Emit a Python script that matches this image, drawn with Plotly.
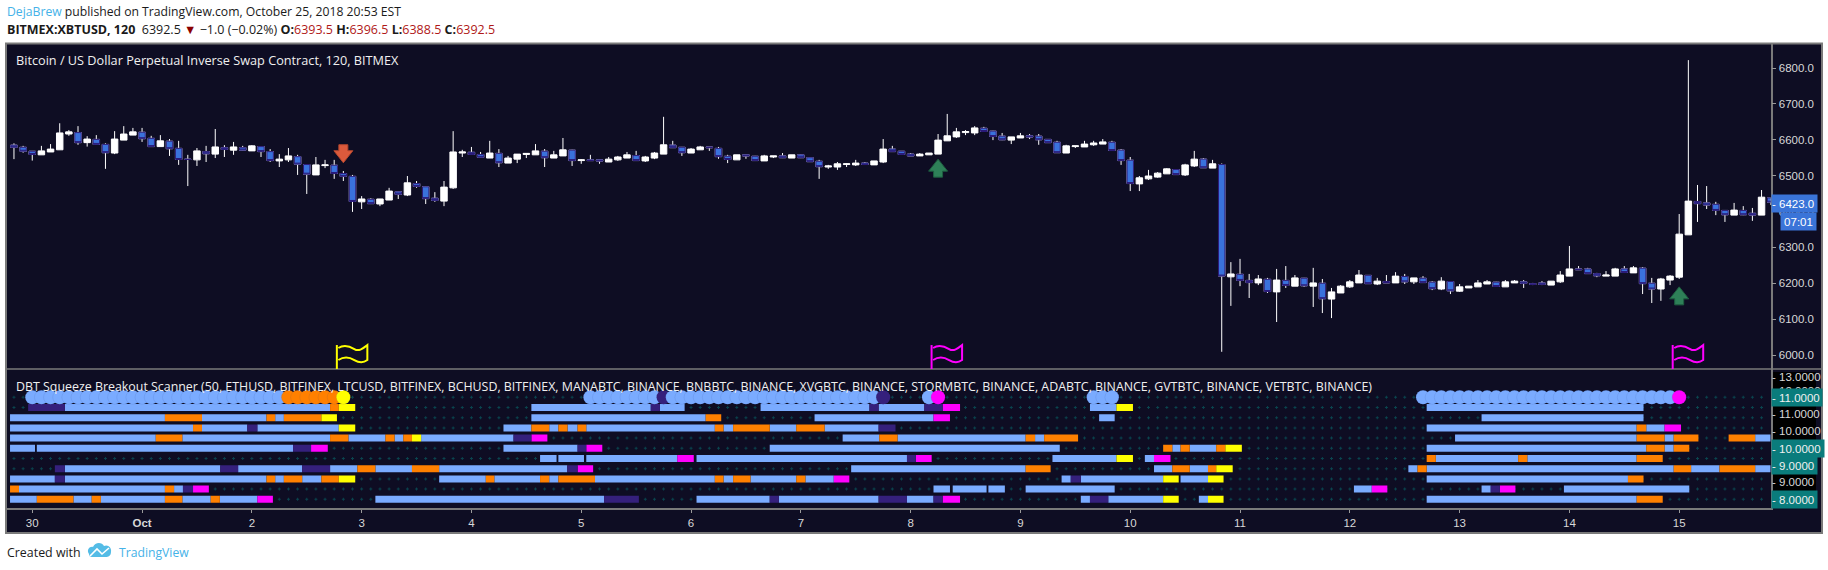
import numpy as np
import plotly.graph_objects as go

W, H = 1828, 570

# ---------- price data (one 2h bar each, 12 bars per day, bar 0 = 30 Sep) ----------
FIRST_BAR = -2
OPEN = [6585,6579,6568,6558,6566,6572,6616,6620,6592,6601,6587,6563,6599,6613,6621,6604,6581,6596,6576,6546,
        6544,6567,6560,6578,6571,6578,6569,6581,6567,6541,6544,6553,6531,6502,6528,6529,6506,6498,6427,6434,
        6421,6432,6455,6446,6478,6469,6437,6429,6466,6563,6565,6559,6549,6562,6535,6546,6559,6558,6568,6549,
        6555,6571,6542,6544,6544,6538,6544,6549,6556,6541,6549,6560,6585,6579,6563,6572,6580,6576,6554,6544,
        6558,6554,6541,6552,6555,6549,6558,6550,6540,6524,6524,6531,6530,6535,6530,6538,6574,6568,6560,6555,
        6558,6560,6597,6608,6620,6619,6632,6624,6610,6599,6605,6611,6610,6601,6593,6563,6581,6580,6586,6588,
        6593,6571,6543,6477,6491,6496,6505,6517,6502,6527,6546,6521,6531,6218,6225,6208,6201,6211,6176,6208,
        6192,6214,6192,6200,6156,6173,6190,6201,6222,6198,6205,6201,6219,6204,6214,6203,6184,6205,6178,6187,
        6190,6198,6203,6190,6201,6204,6199,6201,6195,6204,6220,6240,6240,6227,6220,6220,6240,6229,6242,6200,
        6184,6209,6217,6335,6428,6424,6420,6403,6390,6403,6395,6390,6438]
HIGH = [6590,6583,6568,6583,6588,6646,6627,6638,6610,6613,6590,6624,6638,6633,6633,6611,6613,6602,6597,6558,
        6577,6583,6630,6585,6594,6583,6585,6582,6574,6560,6577,6558,6532,6552,6544,6544,6513,6502,6443,6437,
        6435,6466,6456,6499,6485,6470,6454,6485,6624,6572,6580,6566,6597,6574,6555,6560,6563,6588,6574,6569,
        6605,6572,6546,6558,6544,6552,6555,6566,6569,6555,6566,6664,6597,6580,6577,6583,6580,6580,6558,6558,
        6558,6555,6558,6555,6563,6558,6560,6551,6544,6530,6538,6535,6544,6538,6541,6602,6583,6568,6563,6563,
        6563,6616,6672,6633,6627,6638,6636,6625,6619,6608,6619,6616,6616,6602,6597,6586,6583,6597,6597,6602,
        6597,6574,6552,6499,6516,6510,6521,6518,6533,6569,6549,6544,6534,6259,6268,6226,6223,6215,6240,6248,
        6223,6215,6243,6212,6187,6195,6209,6237,6223,6215,6223,6231,6226,6215,6220,6206,6217,6206,6198,6192,
        6209,6209,6204,6209,6209,6209,6201,6206,6206,6234,6304,6248,6243,6229,6234,6243,6248,6248,6245,6215,
        6215,6223,6393,6822,6474,6471,6427,6404,6424,6415,6410,6460,6438]
LOW = [6546,6564,6542,6558,6566,6572,6611,6586,6581,6586,6519,6560,6599,6613,6594,6581,6581,6555,6530,6471,
       6527,6538,6549,6552,6558,6570,6569,6552,6538,6524,6538,6502,6449,6502,6521,6491,6485,6399,6407,6422,
       6415,6432,6435,6443,6466,6421,6427,6415,6463,6552,6558,6550,6549,6524,6535,6535,6549,6558,6524,6549,
       6555,6527,6533,6541,6533,6538,6541,6549,6542,6538,6546,6560,6577,6555,6563,6572,6569,6547,6535,6544,
       6547,6542,6541,6549,6549,6549,6549,6538,6491,6519,6516,6524,6527,6530,6530,6535,6567,6559,6555,6555,
       6558,6560,6597,6605,6613,6613,6623,6599,6599,6588,6605,6602,6586,6591,6564,6563,6577,6580,6583,6588,
       6570,6530,6457,6457,6488,6494,6505,6502,6499,6524,6522,6521,6009,6137,6192,6159,6195,6173,6092,6187,
       6192,6190,6134,6117,6103,6173,6187,6201,6199,6195,6201,6201,6198,6198,6201,6181,6181,6170,6176,6187,
       6190,6198,6191,6190,6201,6187,6195,6195,6195,6201,6220,6237,6226,6217,6220,6220,6229,6229,6170,6145,
       6151,6195,6212,6335,6371,6407,6390,6371,6390,6390,6374,6390,6418]
CLOSE = [6579,6568,6559,6569,6574,6619,6622,6592,6602,6587,6564,6602,6616,6622,6603,6581,6597,6575,6545,6545,
         6569,6561,6580,6573,6580,6571,6583,6567,6542,6546,6555,6532,6504,6530,6530,6506,6498,6428,6435,6422,
         6435,6457,6448,6480,6470,6436,6431,6468,6566,6566,6559,6551,6563,6536,6549,6560,6562,6569,6550,6558,
         6572,6542,6544,6542,6541,6546,6552,6558,6542,6552,6563,6586,6578,6564,6574,6580,6578,6553,6545,6558,
         6555,6542,6555,6555,6550,6558,6550,6539,6525,6527,6533,6533,6535,6531,6541,6574,6567,6559,6555,6560,
         6563,6599,6611,6622,6623,6633,6623,6609,6600,6608,6611,6608,6600,6592,6564,6583,6583,6588,6591,6594,
         6570,6542,6478,6494,6499,6507,6519,6503,6530,6546,6522,6533,6220,6226,6208,6202,6212,6177,6209,6194,
         6215,6193,6201,6157,6176,6192,6204,6223,6199,6206,6201,6220,6204,6215,6202,6185,6206,6179,6190,6192,
         6201,6204,6191,6204,6206,6200,6197,6197,6206,6223,6240,6238,6227,6221,6223,6240,6230,6243,6199,6184,
         6212,6220,6337,6429,6422,6418,6403,6391,6404,6391,6390,6440,6426]

PRICE_TICKS = [6000, 6100, 6200, 6300, 6400, 6500, 6600, 6700, 6800]
LAST_PRICE = 6423.0
COUNTDOWN = "07:01"

DAY_BARS = [0, 12, 24, 36, 48, 60, 72, 84, 96, 108, 120, 132, 144, 156, 168, 180]
DAY_LABELS = ["30", "<b>Oct</b>", "2", "3", "4", "5", "6", "7", "8", "9", "10", "11", "12", "13", "14", "15"]

# signal markers on the price pane
SELL_ARROW_BARS, SELL_ARROW_PRICES = [34], [6536]
BUY_ARROW_BARS, BUY_ARROW_PRICES = [99, 180], [6546, 6190]
FLAG_BARS = [34, 99, 180]
FLAG_STATES = ["y", "m", "m"]
FLAG_BASE_PRICE = 5961

# ---------- scanner rows: (start bar, end bar, state) ----------
ROW_10 = [(-0.45,3.57,"p"),(3.57,32.55,"b"),(32.55,33.5,"o"),(33.5,35.3,"y"),(54.55,67.6,"b"),(67.6,68.6,"p"),
          (68.6,71.3,"b"),(79.6,91.5,"b"),(91.5,92.5,"p"),(92.5,97.5,"b"),(97.5,99.5,"p"),(99.5,101.4,"m"),
          (115.6,118.5,"b"),(118.5,120.3,"y"),(152.4,176.1,"b")]
ROW_9 = [(-2.43,14.5,"b"),(14.5,18.55,"o"),(18.55,25.6,"b"),(25.6,26.55,"o"),(26.55,27.5,"b"),(27.5,31.6,"o"),
         (31.6,33.3,"y"),(54.55,73.6,"b"),(73.6,75.3,"o"),(85.5,98.5,"b"),(98.5,100.3,"m"),(116.6,118.3,"b"),
         (158.4,176.1,"b")]
ROW_8 = [(-2.43,17.57,"b"),(17.57,18.55,"o"),(18.55,23.5,"b"),(23.5,24.6,"p"),(24.6,33.5,"b"),(33.5,35.3,"y"),
         (51.5,54.55,"b"),(54.55,56.5,"o"),(56.5,57.5,"b"),(57.5,58.5,"o"),(58.5,59.6,"b"),(59.6,60.55,"o"),
         (60.55,74.6,"b"),(74.6,75.55,"o"),(75.55,76.6,"b"),(76.6,80.6,"o"),(80.6,83.5,"b"),(83.5,86.6,"o"),
         (86.6,92.5,"b"),(92.5,94.35,"p"),(152.4,175.35,"b"),(175.35,176.4,"o"),(176.4,178.4,"b"),(178.4,180.2,"m")]
ROW_7 = [(-2.43,13.5,"b"),(13.5,16.4,"o"),(16.4,32.55,"b"),(32.55,34.55,"o"),(34.55,38.6,"b"),(38.6,39.6,"o"),
         (39.6,40.55,"b"),(40.55,41.5,"o"),(41.5,42.5,"y"),(42.5,52.6,"b"),(52.6,54.55,"p"),(54.55,56.3,"m"),
         (88.57,92.57,"b"),(92.57,94.57,"o"),(94.57,108.57,"b"),(108.57,109.6,"o"),(109.6,110.6,"b"),(110.6,114.3,"o"),
         (155.5,175.35,"b"),(175.35,178.4,"o"),(178.4,179.4,"b"),(179.4,182.1,"o"),(185.4,188.3,"o"),(188.3,190.0,"b")]
ROW_6 = [(-2.43,0.3,"b"),(0.5,28.5,"b"),(28.5,30.47,"p"),(30.47,32.3,"m"),(51.5,59.6,"b"),(59.6,60.55,"p"),
         (60.55,62.3,"m"),(80.6,112.3,"b"),(123.6,124.6,"o"),(124.6,125.5,"b"),(125.5,126.5,"o"),(126.5,129.4,"b"),
         (129.4,130.4,"o"),(130.4,132.2,"y"),(152.4,176.4,"b"),(176.4,178.4,"o"),(178.4,179.4,"b"),(179.4,181.1,"o")]
ROW_5 = [(55.5,57.3,"b"),(57.5,60.3,"b"),(60.55,70.5,"b"),(70.5,72.3,"m"),(72.6,95.6,"b"),(95.6,96.57,"p"),
         (96.57,98.3,"m"),(111.5,118.5,"b"),(118.5,120.3,"y"),(121.6,122.6,"b"),(122.6,124.4,"m"),(152.4,153.4,"o"),
         (153.4,162.4,"b"),(162.4,163.4,"o"),(163.4,175.35,"b"),(175.35,178.2,"o")]
ROW_4 = [(2.47,3.57,"p"),(3.57,20.55,"b"),(20.55,22.5,"p"),(22.5,29.5,"b"),(29.5,32.55,"p"),(32.55,35.53,"b"),
         (35.53,37.5,"o"),(37.5,41.5,"b"),(41.5,44.47,"o"),(44.47,58.47,"b"),(58.47,59.6,"p"),(59.6,61.3,"m"),
         (89.5,108.57,"b"),(108.57,111.3,"o"),(122.6,124.6,"b"),(124.6,126.5,"o"),(126.5,128.5,"b"),(128.5,129.4,"o"),
         (129.4,131.2,"y"),(150.4,151.4,"b"),(151.4,152.4,"o"),(152.4,179.4,"b"),(179.4,181.3,"o"),(181.3,184.4,"b"),
         (184.4,188.3,"o"),(188.3,190.0,"b")]
ROW_3 = [(-2.43,2.47,"b"),(2.47,3.57,"p"),(3.57,25.6,"b"),(25.6,26.55,"o"),(26.55,27.5,"b"),(27.5,29.5,"o"),
         (29.5,31.6,"b"),(31.6,33.5,"o"),(33.5,35.3,"y"),(44.47,49.57,"b"),(49.57,50.5,"o"),(50.5,55.5,"b"),
         (55.5,56.5,"o"),(56.5,57.5,"b"),(57.5,61.5,"o"),(61.5,74.6,"b"),(74.6,75.55,"o"),(75.55,76.6,"b"),
         (76.6,78.5,"o"),(78.5,83.5,"b"),(83.5,84.5,"o"),(84.5,87.6,"b"),(87.6,89.3,"m"),(112.5,113.5,"b"),
         (113.5,114.6,"p"),(114.6,123.6,"b"),(123.6,125.3,"y"),(125.5,128.5,"b"),(128.5,130.2,"y"),
         (152.4,174.4,"b"),(174.4,176.1,"o")]
ROW_2 = [(-2.43,-1.45,"o"),(-1.45,14.5,"b"),(14.5,15.5,"o"),(15.5,16.47,"b"),(16.47,17.57,"p"),(17.57,19.3,"m"),
         (98.5,100.3,"b"),(100.6,104.3,"b"),(104.5,106.3,"b"),(108.57,118.3,"b"),(144.45,146.4,"b"),(146.4,148.1,"m"),
         (158.4,159.4,"b"),(159.4,160.4,"p"),(160.4,162.1,"m"),(167.4,181.1,"b")]
ROW_1 = [(-2.43,0.5,"b"),(0.5,4.5,"o"),(4.5,6.5,"b"),(6.5,7.5,"o"),(7.5,14.5,"b"),(14.5,16.4,"o"),(16.4,19.5,"b"),
         (19.5,20.5,"o"),(20.5,24.6,"b"),(24.6,26.3,"m"),(37.5,62.5,"b"),(62.5,66.3,"p"),(72.6,80.6,"b"),
         (80.6,81.6,"p"),(81.6,92.5,"b"),(92.5,95.6,"p"),(95.6,98.5,"b"),(98.5,99.5,"p"),(99.5,101.4,"m"),
         (114.6,115.6,"b"),(115.6,117.6,"p"),(117.6,123.6,"b"),(123.6,125.3,"y"),(127.5,128.5,"b"),(128.5,130.2,"y"),
         (152.4,175.35,"b"),(175.35,178.2,"o")]
SCANNER_ROWS = {10: ROW_10, 9: ROW_9, 8: ROW_8, 7: ROW_7, 6: ROW_6, 5: ROW_5, 4: ROW_4, 3: ROW_3, 2: ROW_2, 1: ROW_1}

# top scanner row: one dot per bar (first bar, last bar, state)
DOT_ROW = 11
DOT_RUNS = [(0,27,"b"),(28,33,"o"),(34,34,"y"),(61,68,"b"),(69,69,"p"),(70,92,"b"),(93,93,"p"),(98,98,"b"),
            (99,99,"m"),(116,118,"b"),(152,179,"b"),(180,180,"m")]

# scanner axis labels: (row position, text, boxed)
SCANNER_LABELS = [(13.0,"13.0000",False),(11.6,"12.0000",False),(11.0,"11.0000",True),(9.33,"11.0000",False),
                  (7.67,"10.0000",False),(6.0,"10.0000",True),(4.33,"9.0000",True),(2.67,"9.0000",False),(1.0,"8.0000",True)]

# ---------- styles ----------
NAVY = "#0e0d23"
FRAME = "#7a7a7a"
STATE_COLORS = {"b": "#7aabff", "o": "#ff8000", "y": "#ffff00", "m": "#ff00ff", "p": "#35207c"}
UI_FONT = "Open Sans"
AX_FONT = "Liberation Sans"
AX_TEXT = "#d8d8d8"
TEAL = "#0a7c7c"

# pane geometry in page pixels
PX_LEFT, PX_AXIS, PX_RIGHT = 6, 1770.7, 1822
PX_TOP, PX_MID, PX_TIME, PX_BOTTOM = 44, 369, 508, 533

def fx(px): return px / W
def fy(px): return 1 - px / H

bars = np.arange(FIRST_BAR, FIRST_BAR + len(OPEN))
o, h, l, c = map(np.array, (OPEN, HIGH, LOW, CLOSE))
down = c < o

fig = go.Figure()

# candle wicks and bodies
fig.add_trace(go.Candlestick(
    x=bars, open=o, high=h, low=l, close=c, yaxis="y", xaxis="x",
    increasing=dict(line=dict(color="#ffffff", width=1), fillcolor="#ffffff"),
    decreasing=dict(line=dict(color="#ffffff", width=1), fillcolor="#ffffff"),
    whiskerwidth=0, hoverinfo="skip", showlegend=False))
# blue bodies with a dark border over the white wicks
fig.add_trace(go.Candlestick(
    x=bars[down], open=o[down], high=o[down], low=c[down], close=c[down], yaxis="y", xaxis="x",
    decreasing=dict(line=dict(color="#2a1a78", width=1), fillcolor="#3a72dc"),
    increasing=dict(line=dict(color="#2a1a78", width=1), fillcolor="#3a72dc"),
    whiskerwidth=0, hoverinfo="skip", showlegend=False))

# scanner background dots
all_rows = list(SCANNER_ROWS) + [DOT_ROW]
gx, gy = np.meshgrid(bars[:-1], all_rows)
fig.add_trace(go.Scatter(x=gx.ravel(), y=gy.ravel(), mode="markers", xaxis="x", yaxis="y2",
                         marker=dict(symbol="cross", size=2.5, color="#0a444e", line=dict(width=0)),
                         hoverinfo="skip", showlegend=False))

# scanner bars
for state, color in STATE_COLORS.items():
    xs, ys = [], []
    for r, segs in SCANNER_ROWS.items():
        for s, e, st in segs:
            if st == state:
                xs += [s, e, None]
                ys += [r, r, None]
    fig.add_trace(go.Scatter(x=xs, y=ys, mode="lines", xaxis="x", yaxis="y2",
                             line=dict(color=color, width=7), hoverinfo="skip", showlegend=False))

# scanner top row of large dots
dx, dc = [], []
for a, b, st in DOT_RUNS:
    for i in range(a, b + 1):
        dx.append(i)
        dc.append(STATE_COLORS[st])
fig.add_trace(go.Scatter(x=dx, y=[DOT_ROW] * len(dx), mode="markers", xaxis="x", yaxis="y2",
                         marker=dict(size=14, color=dc, line=dict(color="rgba(40,60,130,0.2)", width=0.5)),
                         hoverinfo="skip", showlegend=False))

shapes = [
    # frame and pane
    dict(type="rect", xref="paper", yref="paper", x0=fx(PX_LEFT), x1=fx(PX_RIGHT), y0=fy(PX_BOTTOM), y1=fy(PX_TOP-0.5),
         line=dict(color=FRAME, width=2), fillcolor=NAVY, layer="below"),
    dict(type="rect", xref="paper", yref="paper", x0=fx(PX_AXIS+0.5), x1=fx(1816), y0=fy(491), y1=fy(372),
         line=dict(width=0), fillcolor="#000000", layer="below"),
    dict(type="line", xref="paper", yref="paper", x0=fx(PX_LEFT), x1=fx(PX_RIGHT), y0=fy(PX_MID), y1=fy(PX_MID),
         line=dict(color=FRAME, width=1.5), layer="above"),
]

def arrow_path(direction):
    s = direction
    return (f"M 0 0 L -9.5 {-s*12} L -4.5 {-s*12} L -4.5 {-s*18} L 4.5 {-s*18} L 4.5 {-s*12} L 9.5 {-s*12} Z")

for b, p in zip(SELL_ARROW_BARS, SELL_ARROW_PRICES):
    shapes.append(dict(type="path", xref="x", yref="y", xsizemode="pixel", ysizemode="pixel", xanchor=b, yanchor=p,
                       path=arrow_path(-1), fillcolor="#dc5a3c", line=dict(color="#b4472e", width=1)))
for b, p in zip(BUY_ARROW_BARS, BUY_ARROW_PRICES):
    shapes.append(dict(type="path", xref="x", yref="y", xsizemode="pixel", ysizemode="pixel", xanchor=b, yanchor=p,
                       path=arrow_path(1), fillcolor="#2e8058", line=dict(color="#1e5e40", width=1)))

for b, st in zip(FLAG_BARS, FLAG_STATES):
    col = STATE_COLORS[st]
    cloth = "M -5 21 C 1 25, 6 23, 11 20 S 20 21 24 24 L 24 9 C 20 6, 16 6, 11 9 S 1 13, -5 9"
    pole = "M -6.5 0 L -6.5 24"
    ball = "M -8 24.5 A 1.5 1.5 0 1 1 -5 24.5 A 1.5 1.5 0 1 1 -8 24.5 Z"
    for path, fill in ((cloth, "rgba(0,0,0,0)"), (pole, "rgba(0,0,0,0)"), (ball, col)):
        shapes.append(dict(type="path", xref="x", yref="y", xsizemode="pixel", ysizemode="pixel",
                           xanchor=b, yanchor=FLAG_BASE_PRICE, path=path, fillcolor=fill,
                           line=dict(color=col, width=2)))

# footer logo
LOGO_BLUE = "#54bce6"
shapes.append(dict(type="path", xref="paper", yref="paper", xsizemode="pixel", ysizemode="pixel",
                   xanchor=fx(100), yanchor=fy(551),
                   path="M -11 -3 C -14 1 -10 5 -7 4 C -5 9 2 9 4 5 C 8 7 12 3 11 -1 C 11 -5 8 -6 6 -6 L -8 -6 C -10 -6 -11 -5 -11 -3 Z",
                   fillcolor=LOGO_BLUE, line=dict(width=0)))
shapes.append(dict(type="path", xref="paper", yref="paper", xsizemode="pixel", ysizemode="pixel",
                   xanchor=fx(100), yanchor=fy(551), path="M -10 -5 L -3 2 L 2 -3 L 9 3",
                   line=dict(color="#ffffff", width=1.6)))

RED = "#b01818"
DARK = "#1a1a1a"
ann = []
def text(px, py, s, size, color=DARK, font=UI_FONT):
    ann.append(dict(text=s, xref="paper", yref="paper", x=fx(px), y=fy(py), xanchor="left", yanchor="middle",
                    showarrow=False, font=dict(family=font, size=size, color=color), borderpad=0))

text(6, 12, f'<span style="color:#45b2e8">DejaBrew</span> published on TradingView.com, October 25, 2018 20:53 EST', 12.2)
text(6, 30, ('<b>BITMEX:XBTUSD, 120</b>  6392.5 <span style="color:#8b0000">▼</span> −1.0 (−0.02%) '
             f'<b>O:</b><span style="color:{RED}">6393.5</span> <b>H:</b><span style="color:{RED}">6396.5</span> '
             f'<b>L:</b><span style="color:{RED}">6388.5</span> <b>C:</b><span style="color:{RED}">6392.5</span>'), 12.5)
text(15, 60, "Bitcoin / US Dollar Perpetual Inverse Swap Contract, 120, BITMEX", 12.7, "#f0f0f0")
text(15, 386, ("DBT Squeeze Breakout Scanner (50, ETHUSD, BITFINEX, LTCUSD, BITFINEX, BCHUSD, BITFINEX, MANABTC, BINANCE, "
               "BNBBTC, BINANCE, XVGBTC, BINANCE, STORMBTC, BINANCE, ADABTC, BINANCE, GVTBTC, BINANCE, VETBTC, BINANCE)"),
     12.4, "#f0f0f0")
text(6, 552, "Created with", 12.4)
text(118, 552, "TradingView", 12.2, "#45b2e8")

# scanner axis labels
BOX_WIDTHS = {"11.0000": 50, "10.0000": 52, "9.0000": 45, "8.0000": 45}
for r, s, boxed in SCANNER_LABELS:
    a = dict(text="- " + s, xref="paper", yref="y2", x=fx(PX_AXIS), y=r, xanchor="left", yanchor="middle", showarrow=False,
             align="left", font=dict(family=AX_FONT, size=11.5, color="#f0f0f0" if boxed else AX_TEXT), borderpad=0)
    if boxed:
        a.update(bgcolor=TEAL, width=BOX_WIDTHS[s], height=17)
    ann.append(a)

# last-price tag and countdown
ann.append(dict(text="- " + f"{LAST_PRICE:.1f}", xref="paper", yref="y", x=fx(PX_AXIS), y=LAST_PRICE, xanchor="left",
                yanchor="middle", showarrow=False, align="left", bgcolor="#3a74d8", width=45, height=17, borderpad=0,
                font=dict(family=AX_FONT, size=11.5, color="#ffffff")))
ann.append(dict(text=COUNTDOWN, xref="paper", yref="y", x=fx(1780), y=LAST_PRICE, yshift=-18, xanchor="left",
                yanchor="middle", showarrow=False, align="center", bgcolor="#3a74d8", width=35, height=17, borderpad=0,
                font=dict(family=AX_FONT, size=11.5, color="#ffffff")))

fig.update_layout(
    width=W, height=H, autosize=False, margin=dict(l=0, r=0, t=0, b=0),
    paper_bgcolor="#ffffff", plot_bgcolor=NAVY, showlegend=False, boxgap=0.28, boxgroupgap=0.02, boxmode="overlay",
    shapes=shapes, annotations=ann,
    xaxis=dict(domain=[fx(PX_LEFT), fx(PX_AXIS)], range=[-2.87, 190.0], anchor="y2", rangeslider=dict(visible=False),
               tickmode="array", tickvals=DAY_BARS, ticktext=DAY_LABELS, ticks="outside", ticklen=3, tickcolor="#9a9a9a",
               tickfont=dict(family=AX_FONT, size=11.5, color=AX_TEXT), showgrid=False, zeroline=False,
               showline=True, linecolor=FRAME, linewidth=1.5),
    yaxis=dict(domain=[fy(PX_MID), fy(PX_TOP)], range=[5961.1, 6866.9], side="right", anchor="x",
               tickmode="array", tickvals=PRICE_TICKS, ticktext=[f"{v:.1f}" for v in PRICE_TICKS],
               ticks="outside", ticklen=4, tickcolor="#9a9a9a", tickfont=dict(family=AX_FONT, size=11.5, color=AX_TEXT),
               showgrid=False, zeroline=False, showline=True, linecolor=FRAME, linewidth=1.5),
    yaxis2=dict(domain=[fy(PX_TIME), fy(PX_MID)], range=[0.147, 13.775], side="right", anchor="x",
                showticklabels=False, ticks="", showgrid=False, zeroline=False,
                showline=True, linecolor=FRAME, linewidth=1.5),
)

fig.write_html("out.html", config={"displayModeBar": False},
               post_script="document.body.style.margin='0';document.body.style.overflow='hidden';")
